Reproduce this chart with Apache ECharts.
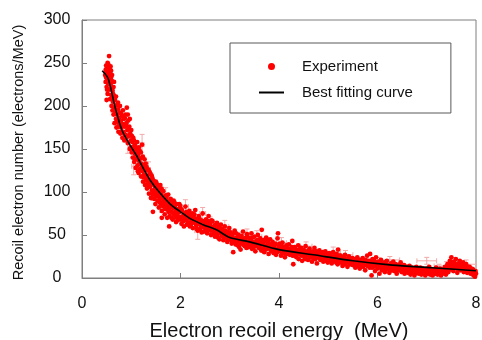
<!DOCTYPE html>
<html><head><meta charset="utf-8">
<script src="https://cdn.jsdelivr.net/npm/echarts@6/dist/echarts.min.js"></script>
<style>html,body{margin:0;padding:0;background:#fff}#c{width:482px;height:340px}</style>
</head><body><div id="c"></div>
<script>
const xTickValues = [0, 2, 4, 6, 8];
const yTickValues = [0, 50, 100, 150, 200, 250, 300];
const fitX = [0.41,0.53,0.67,0.81,0.94,1.1,1.25,1.38,1.58,1.79,2.0,2.2,2.46,2.73,3.0,3.4,4.0,4.7,5.5,6.3,7.1,8.0];
const fitY = [241,232,199,172,158,143,127,114,99,86,77,69,62,56,47,42,33,27,20,15,12,8.5];
const experiment = [
[0.47,236],[0.48,242],[0.48,228],[0.49,247],[0.50,239],[0.50,222],[0.50,207],[0.51,245],[0.51,232],[0.52,250],[0.52,214],[0.53,241],[0.53,226],[0.54,236],[0.54,247],[0.55,258],[0.55,219],[0.56,231],[0.56,243],[0.57,208],[0.57,238],[0.58,225],[0.58,246],[0.59,213],[0.59,233],[0.60,221],[0.60,200],[0.61,229],[0.61,210],[0.62,218],[0.62,195],
[0.63,205],[0.64,222],[0.64,190],[0.65,212],[0.66,198],[0.66,180],[0.67,207],[0.68,193],[0.69,185],[0.70,201],[0.70,175],[0.71,190],[0.72,182],[0.73,196],[0.74,170],[0.75,186],[0.76,178],[0.77,192],[0.78,168],[0.79,183],[0.80,175],[0.81,188],[0.82,163],[0.83,179],[0.84,170],[0.85,185],[0.86,160],[0.87,176],[0.88,190],[0.89,166],[0.90,180],[0.91,198],[0.92,172],[0.93,157],[0.94,183],[0.95,165],[0.96,176],[0.97,150],[0.98,168],[0.99,160],
[1.00,172],[1.01,146],[1.02,158],[1.03,140],[1.04,163],[1.05,150],[1.06,135],[1.07,155],[1.08,144],[1.09,128],[1.10,148],[1.11,138],[1.12,158],[1.13,131],[1.14,143],[1.15,122],[1.16,136],[1.17,148],[1.18,127],[1.19,139],[1.20,118],[1.21,133],[1.22,155],[1.23,124],[1.24,112],[1.25,130],[1.26,120],[1.27,138],[1.28,108],[1.29,125],[1.30,116],[1.31,129],[1.32,104],[1.33,119],[1.34,111],[1.35,126],[1.36,98],[1.37,114],[1.38,106],[1.39,121],[1.40,93],[1.41,110],[1.42,102],[1.43,116],[1.44,77],[1.45,99],[1.46,108],[1.47,92],[1.48,104],[1.49,86],
[1.50,112],[1.51,97],[1.52,103],[1.53,90],[1.54,107],[1.55,95],[1.56,82],[1.57,100],[1.58,92],[1.59,108],[1.60,86],[1.61,97],[1.62,78],[1.62,70],[1.63,93],[1.64,88],[1.65,101],[1.66,83],[1.67,94],[1.68,74],[1.69,89],[1.70,96],[1.71,81],[1.72,90],[1.73,70],[1.74,86],[1.75,97],[1.76,79],[1.77,88],[1.77,60],[1.78,72],[1.79,84],[1.80,92],[1.81,77],[1.82,86],[1.84,68],[1.85,81],[1.86,90],[1.87,74],[1.88,83],[1.90,78],[1.91,65],[1.92,86],[1.93,73],[1.95,80],[1.96,69],[1.98,77],[1.99,84],[2.00,71],[2.02,63],[2.03,79],[2.05,72],[2.06,66],[2.08,75],[2.10,83],[2.11,68],[2.13,62],[2.14,74],[2.16,69],[2.18,78],[2.19,60],[2.20,71],
[2.22,66],[2.24,75],[2.25,58],[2.27,70],[2.29,64],[2.30,79],[2.32,61],[2.34,68],[2.35,55],[2.37,72],[2.39,63],[2.40,57],[2.42,67],[2.44,60],[2.45,75],[2.47,54],[2.49,64],[2.50,58],[2.52,68],[2.54,52],[2.55,61],[2.57,72],[2.59,56],[2.60,63],[2.62,50],[2.64,59],[2.65,66],[2.67,54],[2.69,61],[2.70,48],[2.72,57],[2.74,64],[2.75,51],[2.77,58],[2.79,45],[2.80,55],[2.82,62],[2.84,49],[2.85,56],[2.87,44],[2.89,53],[2.90,60],[2.92,47],[2.94,54],[2.95,42],[2.97,51],[2.99,58],[3.00,45],
[3.02,53],[3.04,40],[3.05,48],[3.07,30],[3.09,44],[3.10,55],[3.12,39],[3.14,47],[3.15,42],[3.17,50],[3.19,36],[3.20,45],[3.22,33],[3.24,49],[3.25,41],[3.27,54],[3.29,38],[3.30,46],[3.32,43],[3.34,35],[3.35,51],[3.37,40],[3.39,47],[3.40,37],[3.42,44],[3.44,52],[3.45,34],[3.47,42],[3.49,39],[3.50,48],[3.52,31],[3.54,43],[3.55,38],[3.57,50],[3.59,35],[3.60,41],[3.62,46],[3.64,32],[3.65,56],[3.67,39],[3.69,44],[3.70,30],[3.72,37],[3.74,47],[3.75,34],[3.77,41],[3.79,28],[3.80,38],[3.82,45],[3.84,32],[3.85,36],[3.87,42],[3.89,29],[3.90,35],[3.92,40],[3.94,27],[3.95,33],[3.97,46],[3.98,52],[4.00,31],[4.02,37],[4.04,26],[4.05,34],[4.07,41],[4.09,29],[4.10,35],[4.12,24],[4.14,32],[4.15,38],[4.17,28],[4.19,33],
[4.20,39],[4.22,27],[4.24,34],[4.25,30],[4.27,43],[4.29,16],[4.30,31],[4.32,36],[4.34,25],[4.35,33],[4.37,28],[4.39,38],[4.40,22],[4.42,31],[4.44,27],[4.45,35],[4.47,20],[4.49,29],[4.50,33],[4.52,24],[4.54,37],[4.55,27],[4.57,31],[4.59,21],[4.60,29],[4.62,34],[4.64,24],[4.65,28],[4.67,19],[4.69,31],[4.70,26],[4.72,35],[4.74,22],[4.75,28],[4.77,17],[4.79,30],[4.80,25],[4.82,32],[4.84,21],[4.85,27],[4.87,24],[4.89,30],[4.90,19],[4.92,26],[4.94,31],[4.95,22],[4.97,28],[4.99,18],[5.00,25],[5.02,29],[5.04,21],[5.05,26],[5.07,17],[5.09,24],[5.10,30],[5.12,20],[5.14,25],[5.15,22],[5.17,28],[5.19,16],[5.20,33],[5.22,23],[5.24,19],[5.25,26],[5.27,21],[5.29,14],[5.30,24],[5.32,19],[5.34,27],[5.35,17],[5.37,22],[5.39,13],[5.40,20],[5.42,25],[5.44,16],[5.45,21],[5.47,18],[5.49,23],
[5.50,15],[5.52,22],[5.54,19],[5.55,12],[5.57,20],[5.59,24],[5.60,16],[5.62,18],[5.64,11],[5.65,21],[5.67,17],[5.69,14],[5.70,23],[5.72,15],[5.74,19],[5.75,9],[5.77,17],[5.79,26],[5.80,14],[5.82,20],[5.84,12],[5.85,28],[5.87,16],[5.88,3],[5.90,22],[5.92,13],[5.94,18],[5.95,8],[5.97,24],[5.99,15],[6.00,11],[6.02,19],[6.04,5],[6.05,14],[6.07,21],[6.09,9],[6.10,16],[6.12,12],[6.14,18],[6.15,7],[6.17,14],[6.19,20],[6.20,10],[6.22,15],[6.24,6],[6.25,13],[6.27,17],[6.29,9],[6.30,14],[6.32,19],[6.34,8],[6.35,12],[6.37,16],[6.39,5],[6.40,11],[6.42,15],[6.44,9],[6.45,13],[6.47,18],[6.49,7],[6.50,12],[6.52,10],[6.54,15],[6.55,5],[6.57,11],[6.59,8],[6.60,13],[6.62,6],[6.64,10],[6.65,14],[6.67,4],[6.69,9],[6.70,12],[6.72,7],[6.74,11],[6.75,3],[6.77,8],[6.79,13],[6.80,6],[6.82,10],[6.84,5],[6.85,9],[6.87,12],[6.89,4],[6.90,8],[6.92,11],[6.94,6],[6.95,9],[6.97,3],[6.99,7],[7.00,11],[7.02,5],[7.04,8],[7.05,13],[7.07,4],[7.09,7],[7.10,10],[7.12,3],[7.14,6],[7.15,9],[7.17,5],[7.19,12],[7.20,7],[7.22,4],[7.24,9],[7.25,6],[7.27,11],[7.29,3],[7.30,8],[7.32,5],[7.34,10],[7.35,7],[7.37,13],[7.39,4],[7.40,9],[7.42,16],[7.44,7],[7.45,12],[7.47,20],[7.49,10],[7.50,24],[7.52,15],[7.54,8],[7.55,19],[7.57,12],[7.59,22],[7.60,14],[7.62,6],[7.64,17],[7.65,11],[7.67,20],[7.69,9],[7.70,15],[7.72,12],[7.74,18],[7.75,7],[7.77,13],[7.79,10],[7.80,16],[7.82,6],[7.84,11],[7.85,8],[7.87,13],[7.89,5],[7.90,9],[7.92,6],[7.94,10],[7.95,3],[7.97,7],[7.98,1.5],[8.00,5],
[0.49,233],[0.51,219],[0.53,249],[0.55,239],[0.57,226],[0.59,241],[0.61,236],[0.63,214],[0.65,228],[0.67,195],[0.69,211],[0.71,181],[0.73,204],[0.75,176],[0.77,200],[0.79,191],[0.81,170],[0.83,195],[0.85,168],[0.87,186],[0.89,178],[0.91,164],[0.93,190],[0.95,174],[0.97,185],[0.99,152],
[1.015,165],[1.035,152],[1.055,160],[1.075,139],[1.095,152],[1.115,145],[1.135,124],[1.155,152],[1.175,133],[1.195,146],[1.215,128],[1.235,141],[1.255,117],[1.275,127],[1.295,133],[1.315,113],[1.335,126],[1.355,107],[1.375,123],[1.395,112],[1.415,119],[1.435,97],[1.455,113],[1.475,100],[1.495,95],[1.515,110],[1.535,99],[1.555,104],[1.575,88],[1.595,96],[1.615,104],[1.635,84],[1.655,92],[1.675,87],[1.695,80],[1.715,93],[1.735,84],[1.755,77],[1.775,82],[1.795,89],[1.815,70],[1.835,83],[1.855,75],[1.875,88],[1.895,71],[1.915,80],[1.935,67],[1.955,76],[1.975,86],[1.995,68],
[2.01,80],[2.04,68],[2.07,60],[2.09,70],[2.12,77],[2.15,64],[2.17,73],[2.21,62],[2.23,70],[2.26,65],[2.28,74],[2.31,69],[2.33,57],[2.36,64],[2.38,70],[2.41,61],[2.43,53],[2.46,66],[2.48,59],[2.51,63],[2.53,56],[2.56,66],[2.58,60],[2.61,55],[2.63,67],[2.66,58],[2.68,52],[2.71,62],[2.73,55],[2.76,47],[2.78,60],[2.81,52],[2.83,57],[2.86,50],[2.88,47],[2.91,55],[2.93,50],[2.96,46],[2.98,53],
[3.01,49],[3.03,44],[3.06,51],[3.08,42],[3.11,46],[3.13,52],[3.16,38],[3.18,44],[3.21,49],[3.23,40],[3.26,45],[3.28,42],[3.31,37],[3.33,47],[3.36,41],[3.38,36],[3.41,45],[3.43,39],[3.46,47],[3.48,35],[3.51,42],[3.53,37],[3.56,44],[3.58,40],[3.61,36],[3.63,42],[3.66,34],[3.68,40],[3.71,43],[3.73,33],[3.76,38],[3.78,44],[3.81,34],[3.83,39],[3.86,31],[3.88,37],[3.91,33],[3.93,39],[3.96,30],[3.99,36],[4.01,40],[4.03,33],[4.06,30],[4.08,36],[4.11,31],[4.13,28],[4.16,35],[4.18,30],
[4.21,33],[4.23,29],[4.26,36],[4.28,26],[4.31,28],[4.33,31],[4.36,24],[4.38,32],[4.41,29],[4.43,34],[4.46,26],[4.48,31],[4.51,28],[4.53,22],[4.56,30],[4.58,26],[4.61,32],[4.63,27],[4.66,24],[4.68,29],[4.71,23],[4.73,27],[4.76,31],[4.78,24],[4.81,28],[4.83,23],[4.86,29],[4.88,21],[4.91,27],[4.93,24],[4.96,20],[4.98,26],[5.01,22],[5.03,27],[5.06,23],[5.08,19],[5.11,25],[5.13,22],[5.16,18],[5.18,24],[5.21,20],[5.23,26],[5.26,18],[5.28,23],[5.31,20],[5.33,16],[5.36,22],[5.38,19],[5.41,23],[5.43,17],[5.46,20],[5.48,16],
[5.51,19],[5.53,16],[5.56,22],[5.58,18],[5.61,14],[5.63,20],[5.66,16],[5.68,19],[5.71,13],[5.73,18],[5.76,21],[5.78,15],[5.81,18],[5.83,16],[5.86,20],[5.89,12],[5.91,17],[5.93,20],[5.96,14],[5.98,18],[6.01,15],[6.03,17],[6.06,12],[6.08,16],[6.11,14],[6.13,10],[6.16,16],[6.18,12],[6.21,14],[6.23,11],[6.26,15],[6.28,12],[6.31,10],[6.33,14],[6.36,11],[6.38,13],[6.41,9],[6.43,12],[6.46,10],[6.48,14],[6.51,8],[6.53,12],[6.56,10],[6.58,13],[6.61,9],[6.63,11],[6.66,8],[6.68,11],[6.71,9],[6.73,6],[6.76,10],[6.78,8],[6.81,11],[6.83,7],[6.86,10],[6.88,8],[6.91,6],[6.93,9],[6.96,7],[6.98,10],[7.01,8],[7.03,6],[7.06,9],[7.08,7],[7.11,9],[7.13,5],[7.16,8],[7.18,7],[7.21,10],[7.23,6],[7.26,8],[7.28,6],[7.31,9],[7.33,7],[7.36,10],[7.38,8],[7.41,12],[7.43,10],[7.46,14],[7.48,17],[7.51,12],[7.53,18],[7.56,14],[7.58,16],[7.61,11],[7.63,14],[7.66,16],[7.68,13],[7.71,10],[7.73,14],[7.76,11],[7.78,15],[7.81,9],[7.83,13],[7.86,10],[7.88,8],[7.91,11],[7.93,8],[7.96,5],[7.99,8]
];
// [x, y, dy, dx]
const errorBars = [
[0.52,228,10,0.03],[0.62,205,12,0.03],[0.78,180,10,0.03],[0.93,157,12,0.03],[1.22,155,12,0.04],[1.45,100,10,0.04],[1.62,88,12,0.05],[1.85,81,10,0.05],[2.10,83,8,0.06],[2.35,55,10,0.06],[2.60,63,8,0.07],[2.90,60,7,0.08],[3.20,45,8,0.08],[3.55,48,7,0.10],[3.90,35,6,0.10],[4.30,31,7,0.12],[4.70,26,6,0.15],[5.10,30,6,0.15],[5.60,16,5,0.18],[6.00,19,5,0.20],[6.50,12,5,0.25],[7.00,20,4,0.20],[7.40,14,5,0.25],[7.80,16,5,0.20],
[1.05,130,10,0.04],[1.35,126,9,0.04],[1.70,96,9,0.05],[2.45,75,7,0.06],[3.35,51,6,0.08],[4.05,41,6,0.1],[4.55,37,5,0.12],[5.35,27,5,0.15],[6.25,21,4,0.2],[6.85,9,4,0.2],[7.25,12,4,0.2]
];

const FONT = "'Liberation Sans', Arial, sans-serif";
const chart = echarts.init(document.getElementById('c'), null, {renderer: 'canvas'});
const fitData = fitX.map((x, i) => [x, fitY[i]]);

chart.setOption({
  animation: false,
  backgroundColor: '#fff',
  textStyle: {fontFamily: FONT},
  grid: {left: 82, right: 6, top: 20, bottom: 62, containLabel: false, outerBoundsMode: 'none',
    show: true, borderColor: '#7f7f7f', borderWidth: 1, backgroundColor: 'transparent'},
  legend: {
    orient: 'vertical', left: 230, top: 43,
    padding: [16, 38, 13, 28],
    itemWidth: 25, itemHeight: 7, itemGap: 11,
    borderColor: '#595959', borderWidth: 1,
    textStyle: {fontSize: 15, color: '#111', fontFamily: FONT, padding: [0, 0, 0, 13]},
    data: [
      {name: 'Experiment', icon: 'circle'},
      {name: 'Best fitting curve', itemStyle: {opacity: 0}}
    ]
  },
  xAxis: {
    type: 'value', min: 0, max: 8, interval: 2,
    name: 'Electron recoil energy  (MeV)', nameLocation: 'middle', nameGap: 43,
    nameTextStyle: {fontSize: 20, color: '#111', fontFamily: FONT},
    axisLine: {show: true, lineStyle: {color: '#7f7f7f', width: 1}},
    axisTick: {show: true, inside: true, length: 5, lineStyle: {color: '#7f7f7f'}},
    axisLabel: {fontSize: 16, color: '#111', margin: 18, fontFamily: FONT},
    splitLine: {show: false}
  },
  yAxis: {
    type: 'value', min: 0, max: 300, interval: 50,
    name: 'Recoil electron number (electrons/MeV)', nameLocation: 'middle', nameGap: 56,
    nameTextStyle: {fontSize: 14.5, color: '#111', fontFamily: FONT, padding: [0, 7, 0, 0]},
    axisLine: {show: true, lineStyle: {color: '#7f7f7f', width: 1}},
    axisTick: {show: true, inside: true, length: 5, lineStyle: {color: '#7f7f7f'}},
    axisLabel: {fontSize: 16, color: '#111', margin: 25, align: 'center', fontFamily: FONT},
    splitLine: {show: false}
  },
  series: [
    {
      type: 'custom', name: 'errors', z: 1, silent: true,
      data: errorBars,
      encode: {x: 0, y: 1},
      renderItem: function (params, api) {
        const x = api.value(0), y = api.value(1), dy = api.value(2), dx = api.value(3);
        const top = api.coord([x, y + dy]), bot = api.coord([x, y - dy]);
        const l = api.coord([x - dx, y]), r = api.coord([x + dx, y]);
        const st = {stroke: '#f2a9a9', lineWidth: 1};
        const c = 2.5;
        return {type: 'group', children: [
          {type: 'line', shape: {x1: top[0], y1: top[1], x2: bot[0], y2: bot[1]}, style: st},
          {type: 'line', shape: {x1: top[0] - c, y1: top[1], x2: top[0] + c, y2: top[1]}, style: st},
          {type: 'line', shape: {x1: bot[0] - c, y1: bot[1], x2: bot[0] + c, y2: bot[1]}, style: st},
          {type: 'line', shape: {x1: l[0], y1: l[1], x2: r[0], y2: r[1]}, style: st},
          {type: 'line', shape: {x1: l[0], y1: l[1] - c, x2: l[0], y2: l[1] + c}, style: st},
          {type: 'line', shape: {x1: r[0], y1: r[1] - c, x2: r[0], y2: r[1] + c}, style: st}
        ]};
      }
    },
    {
      type: 'scatter', name: 'Experiment', z: 2,
      data: experiment, symbol: 'circle', symbolSize: 4.8,
      itemStyle: {color: '#ff0000', opacity: 1}
    },
    {
      type: 'line', name: 'Best fitting curve', z: 3,
      data: fitData, smooth: 0.3, symbol: 'none', showSymbol: false,
      lineStyle: {color: '#000', width: 1.6},
      itemStyle: {color: '#000'}
    }
  ]
});
</script></body></html>
